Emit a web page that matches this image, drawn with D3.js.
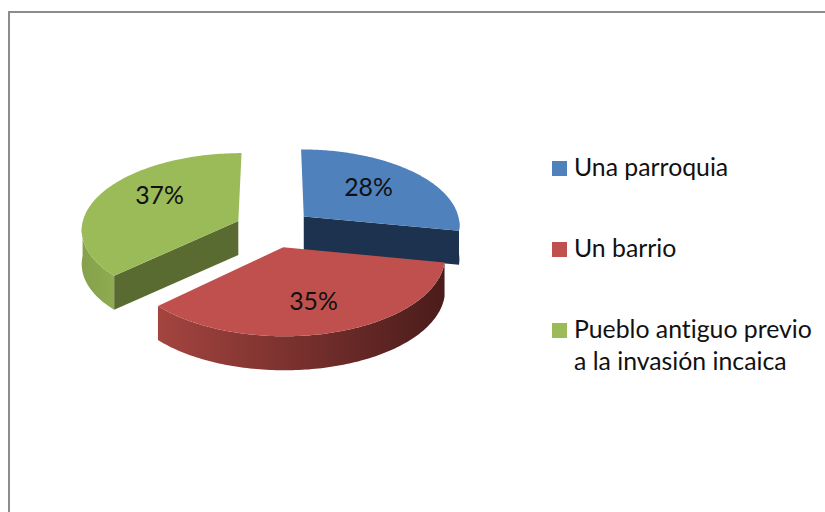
<!DOCTYPE html>
<html>
<head>
<meta charset="utf-8">
<script src="https://cdn.jsdelivr.net/npm/d3@7"></script>
<style>
  html, body { margin: 0; padding: 0; background: #fff; }
  svg { display: block; }
  text { font-family: Lato, "Open Sans", sans-serif; fill: #111; font-variant-ligatures: none; }
</style>
</head>
<body>
<svg id="chart" width="825" height="512"></svg>
<script>
const categories = ["Una parroquia", "Un barrio", "Pueblo antiguo previo a la invasión incaica"];
const values = [28, 35, 37];
const legendLines = [["Una parroquia"], ["Un barrio"], ["Pueblo antiguo previo", "a la invasión incaica"]];
const topColors = ["#4f81bd", "#c0504d", "#9bbb59"];
const faceColors = ["#1d324e", "#4f1e1c", "#5a6b31"];
const wallStops = [["#1d324e", "#1d324e"], ["#a4443f", "#4a1c1b"], ["#85a04a", "#8fac50"]];

const svg = d3.select("#chart");

// frame, only top and left show in the picture
svg.append("path")
    .attr("d", "M9,512V12H825")
    .attr("fill", "none")
    .attr("stroke", "#8c8c8c")
    .attr("stroke-width", 2);

const cx = 274, cy = 228.5;
const R = 157, tilt = 0.485, persp = 0.10, explode = 0.25, depth = 34;
const fontSize = 24.8;

// flat disc coords to screen, v>0 is towards the viewer
function project(u, v) {
    const w = 1 / (1 - persp * v);
    return [cx + R * u * w, cy + R * tilt * v * w];
}

const arcs = d3.pie().sort(null).value(d => d)(values);

const defs = svg.append("defs");
const order = [2, 0, 1]; // back slices first, red sits in front
const labelNudge = [[-3, -3], [1, 4], [4, -9]]; // excel doesn't center these exactly
const sliceShift = [0, -2, 0]; // red sits a little left of its bisector

order.forEach(i => {
    const a = arcs[i];
    const mid = (a.startAngle + a.endAngle) / 2;
    const ox = explode * Math.sin(mid), oy = -explode * Math.cos(mid);
    const pt = ang => project(ox + Math.sin(ang), oy - Math.cos(ang));
    const apex = project(ox, oy);
    const down = p => [p[0], p[1] + depth];
    const g = svg.append("g").attr("class", "slice")
        .attr("transform", `translate(${sliceShift[i]},0)`);

    const rim = d3.range(0, 121).map(k => a.startAngle + (a.endAngle - a.startAngle) * k / 120);

    // outer wall, only the part of the rim facing us
    const front = rim.filter(t => Math.cos(t) < 0);
    if (front.length > 1) {
        const top = front.map(pt);
        const xs = d3.extent(top, p => p[0]);
        const gid = "wall" + i;
        const grad = defs.append("linearGradient").attr("id", gid)
            .attr("gradientUnits", "userSpaceOnUse")
            .attr("x1", xs[0]).attr("x2", xs[1]).attr("y1", 0).attr("y2", 0);
        grad.append("stop").attr("offset", 0).attr("stop-color", wallStops[i][0]);
        grad.append("stop").attr("offset", 1).attr("stop-color", wallStops[i][1]);
        g.append("path")
            .attr("d", d3.line()(top.concat(top.map(down).reverse())) + "Z")
            .attr("fill", `url(#${gid})`);
    }

    // cut faces that turn towards the viewer
    [[a.startAngle, -Math.sin(a.startAngle)], [a.endAngle, Math.sin(a.endAngle)]].forEach(f => {
        if (f[1] > 0.01) {
            const p = pt(f[0]);
            g.append("path")
                .attr("d", d3.line()([apex, p, down(p), down(apex)]) + "Z")
                .attr("fill", faceColors[i]);
        }
    });

    g.append("path")
        .attr("d", d3.line()([apex].concat(rim.map(pt))) + "Z")
        .attr("fill", topColors[i]);

    const lp = project(ox + 0.6 * Math.sin(mid), oy - 0.6 * Math.cos(mid));
    g.append("text")
        .attr("x", lp[0] + labelNudge[i][0]).attr("y", lp[1] + labelNudge[i][1])
        .attr("text-anchor", "middle")
        .attr("dominant-baseline", "central")
        .attr("font-size", fontSize)
        .text(values[i] + "%");
});

// legend
const legendY = d3.scalePoint().domain(categories).range([176, 338]);
const legend = svg.append("g").attr("class", "legend");
categories.forEach((c, i) => {
    legend.append("rect")
        .attr("x", 552).attr("y", legendY(c) - 15)
        .attr("width", 15).attr("height", 15)
        .attr("fill", topColors[i]);
    legendLines[i].forEach((line, j) => {
        legend.append("text")
            .attr("x", 574).attr("y", legendY(c) + j * 32)
            .attr("font-size", fontSize)
            .text(line);
    });
});
</script>
</body>
</html>
